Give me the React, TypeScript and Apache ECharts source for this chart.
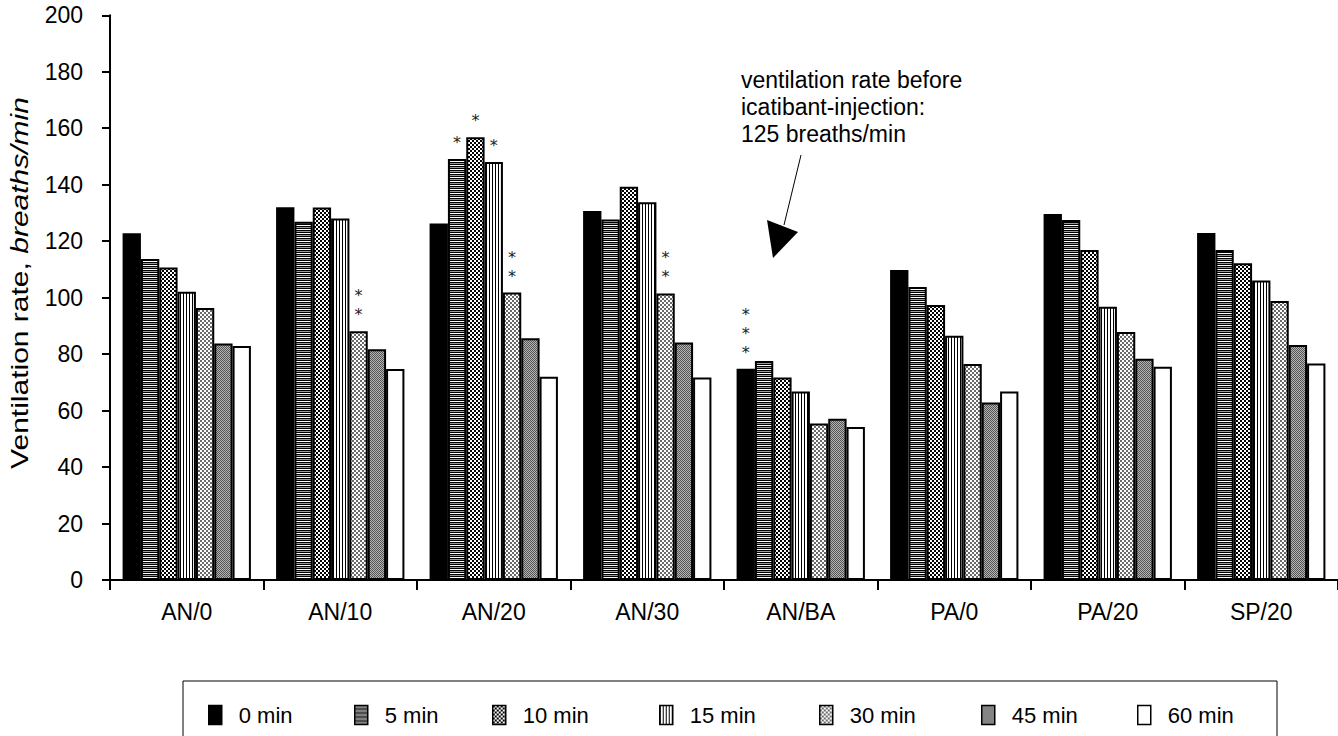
import React, { useEffect, useRef } from 'react';
import * as echarts from 'echarts';

const categories = ['AN/0', 'AN/10', 'AN/20', 'AN/30', 'AN/BA', 'PA/0', 'PA/20', 'SP/20'];
const seriesNames = ['0 min', '5 min', '10 min', '15 min', '30 min', '45 min', '60 min'];
const v0 = [122.8, 132.0, 126.3, 130.7, 74.8, 109.8, 129.6, 122.9];
const v5 = [113.7, 126.9, 149.1, 127.7, 77.6, 103.8, 127.5, 116.9];
const v10 = [110.7, 131.9, 156.8, 139.3, 71.7, 97.4, 116.9, 112.2];
const v15 = [102.1, 128.0, 148.0, 133.8, 66.8, 86.5, 96.8, 106.1];
const v30 = [96.3, 88.1, 101.8, 101.5, 55.4, 76.5, 87.8, 98.8];
const v45 = [83.8, 81.7, 85.6, 84.1, 57.1, 62.9, 78.4, 83.2];
const v60 = [82.9, 74.7, 72.0, 71.7, 54.2, 66.8, 75.5, 76.7];
const seriesValues = [v0, v5, v10, v15, v30, v45, v60];
// significance asterisks: [seriesIndex, categoryIndex, count]
const sigMarks = [
  [1, 2, 1],
  [2, 2, 1],
  [3, 2, 1],
  [4, 1, 2],
  [4, 2, 2],
  [4, 3, 2],
  [0, 4, 3],
];
const yMin = 0;
const yMax = 200;
const yInterval = 20;
const yTitle = 'Ventilation rate, ';
const yTitleItalic = 'breaths/min';
const legendLefts = [208, 354, 492, 659, 819, 981, 1137];
const annotationLines = ['ventilation rate before', 'icatibant-injection:', '125 breaths/min'];

const FONT = '"Liberation Sans", Arial, Helvetica, sans-serif';

function tile(cells: string[][]) {
  const h = cells.length;
  const w = cells[0].length;
  const c = document.createElement('canvas');
  c.width = w;
  c.height = h;
  const ctx = c.getContext('2d')!;
  for (let y = 0; y < h; y++) {
    for (let x = 0; x < w; x++) {
      ctx.fillStyle = cells[y][x];
      ctx.fillRect(x, y, 1, 1);
    }
  }
  return { image: c.toDataURL(), imageWidth: w, imageHeight: h, repeat: 'repeat' } as any;
}

function buildFills() {
  const K = '#000000';
  const W = '#ffffff';
  const S = '#9a9a9a';
  const horiz = tile([[K], [W], [K], [S]]);
  const darkCheck = tile([
    [K, K, W, W],
    [K, K, W, W],
    [W, W, K, K],
    [W, W, K, K],
  ]);
  const vert = tile([[K, W, W]]);
  const G = '#6a6a6a';
  const lightCheck = tile([
    [G, G, W, W],
    [G, G, W, W],
    [W, W, G, G],
    [W, W, G, G],
  ]);
  const A = '#555555';
  const B = '#b4b4b4';
  const grey = tile([
    [A, B],
    [B, A],
  ]);
  return ['#000000', horiz, darkCheck, vert, lightCheck, grey, '#ffffff'];
}

export default function App() {
  const ref = useRef<HTMLDivElement>(null);
  useEffect(() => {
    if (!ref.current) return;
    const chart = echarts.init(ref.current, undefined, { renderer: 'svg' });
    const fills = buildFills();
    const starLabel = {
      position: 'top',
      distance: 7,
      fontFamily: '"DejaVu Sans", sans-serif',
      fontSize: 16,
      lineHeight: 19,
      color: '#222',
    };

    const series = seriesNames.map((name, si) => ({
      name,
      type: 'bar',
      barGap: '0%',
      barCategoryGap: '16.4%',
      itemStyle: { color: fills[si], borderColor: '#000', borderWidth: 2 },
      label: { show: false, ...starLabel },
      data: seriesValues[si].map((v, ci) => {
        const m = sigMarks.find((s) => s[0] === si && s[1] === ci);
        if (!m) return v;
        return {
          value: v,
          label: { show: true, ...starLabel, formatter: Array(m[2]).fill('*').join('\n') },
        };
      }),
    }));

    const legends = seriesNames.map((name, i) => ({
      data: [name],
      left: legendLefts[i],
      top: 704,
      orient: 'horizontal',
      padding: 0,
      itemGap: 0,
      itemWidth: 13,
      itemHeight: 19,
      icon: 'rect',
      selectedMode: false,
      itemStyle: { borderColor: '#000', borderWidth: 1.5 },
      textStyle: { fontSize: 22, fontFamily: FONT, color: '#000', padding: [0, 0, 0, 12] },
    }));

    chart.setOption({
      animation: false,
      backgroundColor: '#fff',
      grid: { left: 110, top: 15.3, width: 1237.6, height: 564.7, containLabel: false },
      legend: legends,
      xAxis: {
        type: 'category',
        data: categories,
        axisLine: { lineStyle: { color: '#000', width: 2 } },
        axisTick: { show: true, alignWithLabel: false, length: 10, lineStyle: { color: '#000', width: 2 } },
        axisLabel: { color: '#000', fontSize: 23, fontFamily: FONT, margin: 20 },
        splitLine: { show: false },
      },
      yAxis: {
        type: 'value',
        min: yMin,
        max: yMax,
        interval: yInterval,
        axisLine: { show: true, lineStyle: { color: '#000', width: 2 } },
        axisTick: { show: true, inside: false, length: 8, lineStyle: { color: '#000', width: 2 } },
        axisLabel: { color: '#000', fontSize: 23, fontFamily: FONT, margin: 27 },
        splitLine: { show: false },
      },
      graphic: [
        {
          type: 'text',
          x: 20,
          y: 283,
          rotation: Math.PI / 2,
          scaleX: 1.25,
          style: {
            text: yTitle + '{i|' + yTitleItalic + '}',
            font: '24px ' + FONT,
            fill: '#000',
            align: 'center',
            verticalAlign: 'middle',
            rich: { i: { fontStyle: 'italic', fontSize: 24, fontFamily: FONT, fill: '#000' } },
          },
          silent: true,
        },
        {
          type: 'rect',
          shape: { x: 183, y: 681, width: 1094, height: 70 },
          style: { fill: 'none', stroke: '#000', lineWidth: 1 },
          silent: true,
        },
        {
          type: 'text',
          x: 741,
          y: 66,
          style: {
            text: annotationLines.join('\n'),
            font: '23px ' + FONT,
            lineHeight: 27,
            fill: '#000',
            verticalAlign: 'top',
          },
          silent: true,
        },
        {
          type: 'line',
          shape: { x1: 801, y1: 155, x2: 784, y2: 225 },
          style: { stroke: '#000', lineWidth: 1 },
          silent: true,
        },
        {
          type: 'polygon',
          shape: { points: [[767, 220], [798, 232], [773, 258]] },
          style: { fill: '#000' },
          silent: true,
        },
      ],
      series,
    });
    return () => chart.dispose();
  }, []);
  return (
    <div
      ref={ref}
      style={{ position: 'fixed', left: 0, top: 0, width: 1338, height: 736, background: '#fff' }}
    />
  );
}
